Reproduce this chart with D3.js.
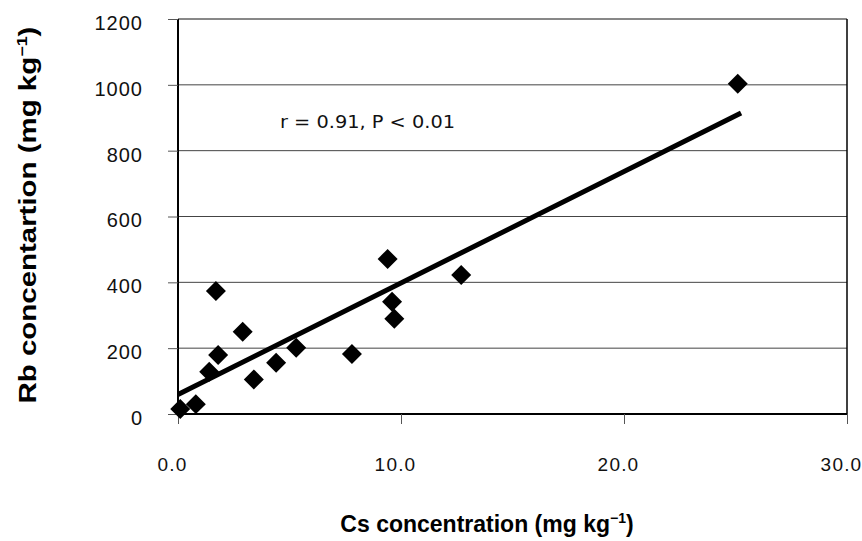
<!DOCTYPE html>
<html>
<head>
<meta charset="utf-8">
<script src="https://cdn.jsdelivr.net/npm/d3@7"></script>
<style>
  body { margin: 0; background: #fff; }
  svg { font-family: 'Liberation Sans', Arial, sans-serif; }
</style>
</head>
<body>
<svg id="chart" width="862" height="541"></svg>
<script>
// Cs vs Rb
const csValues = [0.1, 0.8, 1.4, 1.7, 1.8, 2.9, 3.4, 4.4, 5.3, 7.8, 9.4, 9.6, 9.7, 12.7, 25.1];
const rbValues = [15, 30, 128, 374, 179, 250, 105, 156, 201, 182, 471, 341, 289, 422, 1003];
const xTicks = [0, 10, 20, 30];
const yTicks = [0, 200, 400, 600, 800, 1000, 1200];
const statLabel = 'r = 0.91, P < 0.01';

const svg = d3.select('#chart');
const margin = { left: 178, right: 15, top: 19, bottom: 127 };
const width = 862 - margin.left - margin.right;
const height = 541 - margin.top - margin.bottom;

const x = d3.scaleLinear().domain([0, 30]).range([margin.left, margin.left + width]);
const y = d3.scaleLinear().domain([0, 1200]).range([margin.top + height, margin.top]);

// gridlines
svg.append('g')
  .selectAll('line')
  .data(yTicks.slice(1))
  .join('line')
  .attr('x1', x(0)).attr('x2', x(30))
  .attr('y1', d => y(d)).attr('y2', d => y(d))
  .attr('stroke', d => d === 1200 ? '#111' : '#444').attr('stroke-width', 1);

// right border
svg.append('line')
  .attr('x1', x(30)).attr('x2', x(30))
  .attr('y1', y(1200)).attr('y2', y(0))
  .attr('stroke', '#000').attr('stroke-width', 1.5);

// axes
const xAxis = d3.axisBottom(x).tickValues(xTicks).tickSize(10).tickPadding(34)
  .tickFormat(d3.format('.1f'));
const yAxis = d3.axisLeft(y).tickValues(yTicks).tickSize(10).tickPadding(25)
  .tickFormat(d3.format('d'));

const gx = svg.append('g').attr('transform', `translate(0,${y(0)})`).call(xAxis);
const gy = svg.append('g').attr('transform', `translate(${x(0)},0)`).call(yAxis);

[gx, gy].forEach(g => {
  g.select('.domain').attr('stroke', '#000').attr('stroke-width', 2);
  g.selectAll('.tick line').attr('stroke', '#555');
  g.selectAll('.tick text').attr('fill', '#111')
    .attr('font-family', "'Liberation Sans', Arial, sans-serif");
});
gx.selectAll('.tick text').attr('font-size', 19).attr('letter-spacing', 1.2).attr('dx', -6);
gy.selectAll('.tick text').attr('font-size', 20).attr('letter-spacing', 1).attr('dy', '0.52em');
gx.select('.domain').attr('d', `M${x(0)},0H${x(30)}`);
gy.select('.domain').attr('d', `M0,${y(0)}V${y(1200)}`);

// trend line (least squares)
const n = csValues.length;
const mx = d3.mean(csValues), my = d3.mean(rbValues);
let sxy = 0, sxx = 0;
for (let i = 0; i < n; i++) {
  sxy += (csValues[i] - mx) * (rbValues[i] - my);
  sxx += (csValues[i] - mx) ** 2;
}
const slope = sxy / sxx;
const intercept = my - slope * mx;
const xr = d3.extent(csValues);
const line = d3.line().x(d => x(d)).y(d => y(intercept + slope * d));
svg.append('path')
  .datum([0, xr[1] + 0.15])
  .attr('d', line)
  .attr('fill', 'none').attr('stroke', '#000').attr('stroke-width', 5);

// points
const diamond = d3.symbol(d3.symbolSquare, 200);
svg.append('g')
  .selectAll('path')
  .data(csValues.map((c, i) => [c, rbValues[i]]))
  .join('path')
  .attr('d', diamond)
  .attr('transform', d => `translate(${x(d[0])},${y(d[1])}) rotate(45)`)
  .attr('fill', '#000');

// annotation
svg.append('text')
  .attr('x', 280).attr('y', 128)
  .attr('font-size', 18)
  .attr('font-family', "'DejaVu Sans', sans-serif")
  .attr('fill', '#111')
  .attr('textLength', 175).attr('lengthAdjust', 'spacingAndGlyphs')
  .text(statLabel);

// axis titles
const xt = svg.append('text')
  .attr('x', 487).attr('y', 532)
  .attr('text-anchor', 'middle')
  .attr('font-size', 23).attr('font-weight', 'bold');
xt.append('tspan').text('Cs concentration (mg kg');
xt.append('tspan').text('\u22121').attr('font-size', 14).attr('dy', -9);
xt.append('tspan').text(')').attr('dy', 9);

const yt = svg.append('text')
  .attr('transform', 'translate(36,215) rotate(-90) scale(1.28,1)')
  .attr('text-anchor', 'middle')
  .attr('font-size', 23).attr('font-weight', 'bold');
yt.append('tspan').text('Rb concentartion (mg kg');
yt.append('tspan').text('\u22121').attr('font-size', 14).attr('dy', -9);
yt.append('tspan').text(')').attr('dy', 9);
</script>
</body>
</html>
